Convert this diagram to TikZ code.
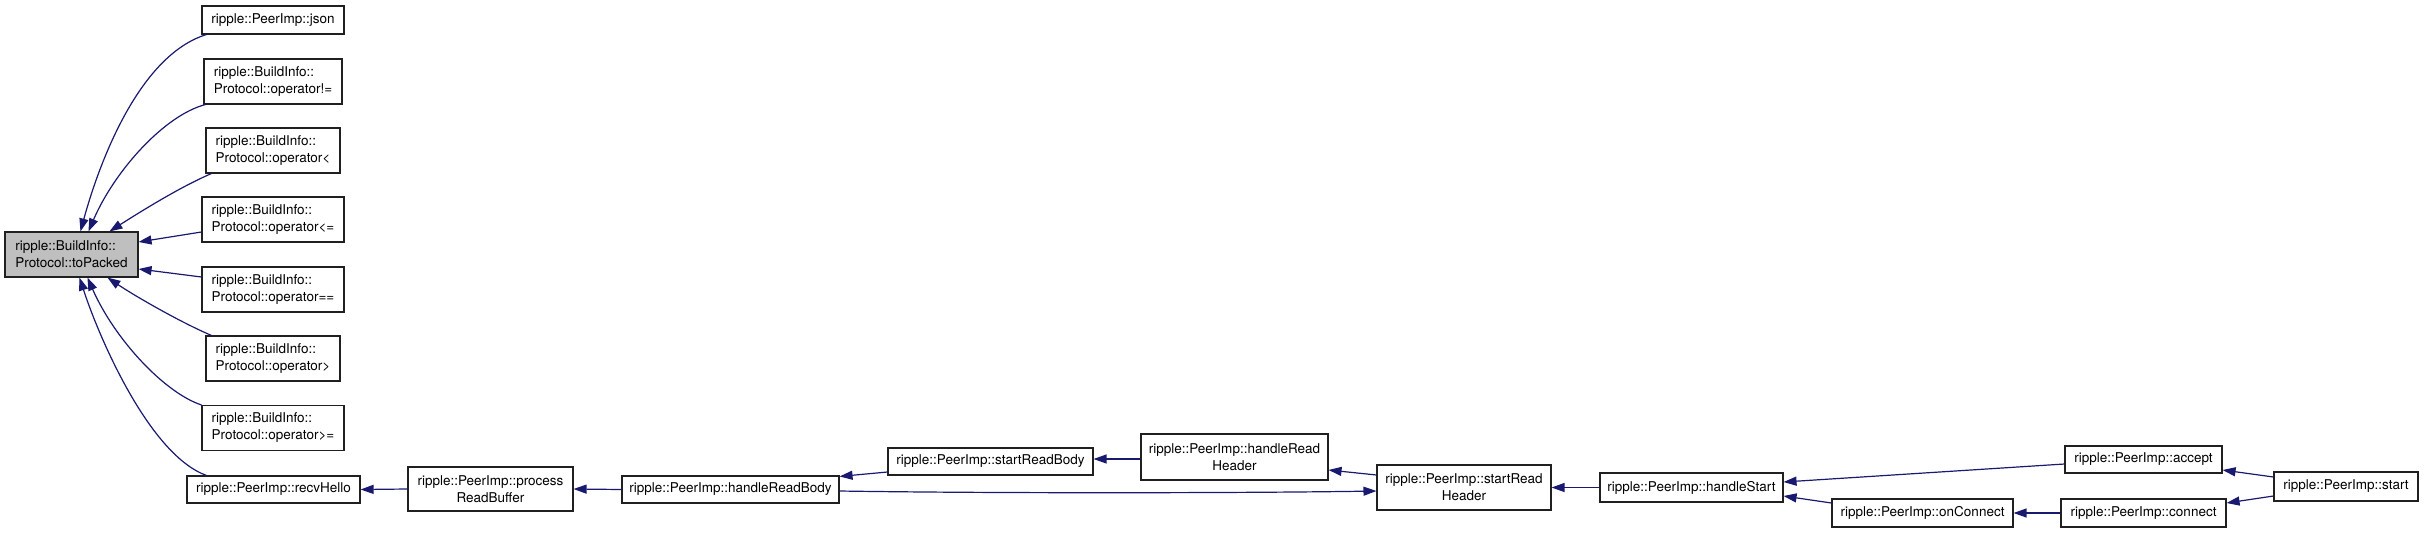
\documentclass[tikz,border=0pt]{standalone}
\usepackage{fontspec}
\setmainfont{TeX Gyre Heros}
\usetikzlibrary{arrows.meta,calc}
\definecolor{edgeblue}{HTML}{191970}
\definecolor{rootfill}{HTML}{BFBFBF}
\definecolor{boxline}{HTML}{202020}
\begin{document}
\begin{tikzpicture}[x=1pt,y=-1pt,
  box/.style={draw=boxline, line width=1.1pt, fill=white, rectangle, inner sep=0pt,
    font=\fontsize{13.5}{17}\selectfont},
  one/.style={box, minimum height=27pt},
  two/.style={box, minimum height=45pt},
  calledge/.style={draw=edgeblue, line width=1.2pt, -{Triangle[length=13pt,width=9pt]}}]
\useasboundingbox (0,0) rectangle (2424,533);

% left cluster
\node[two, minimum width=133pt, align=left, fill=rootfill] (toPacked) at (71.5,254.5) {ripple::BuildInfo::\\Protocol::toPacked};
\node[one, minimum width=142pt, minimum height=28pt] (json) at (273,20) {ripple::PeerImp::json};
\node[two, minimum width=138pt, align=left] (opNE) at (273,81.5) {ripple::BuildInfo::\\Protocol::operator!=};
\node[two, minimum width=134pt, align=left] (opLT) at (273,150.5) {ripple::BuildInfo::\\Protocol::operator<};
\node[two, minimum width=142pt, align=left] (opLE) at (273,219.5) {ripple::BuildInfo::\\Protocol::operator<=};
\node[two, minimum width=142pt, align=left] (opEQ) at (273,289.5) {ripple::BuildInfo::\\Protocol::operator==};
\node[two, minimum width=134pt, align=left] (opGT) at (273,358.5) {ripple::BuildInfo::\\Protocol::operator>};
\node[two, minimum width=142pt, align=left] (opGE) at (273,428) {ripple::BuildInfo::\\Protocol::operator>=};
\node[one, minimum width=173pt] (recvHello) at (273.5,489.5) {ripple::PeerImp::recvHello};

% bottom chain
\node[two, minimum width=165pt, minimum height=44pt, align=center] (processReadBuffer) at (490.5,489) {ripple::PeerImp::process\\ReadBuffer};
\node[one, minimum width=217pt] (handleReadBody) at (730.5,489.5) {ripple::PeerImp::handleReadBody};
\node[one, minimum width=205pt] (startReadBody) at (990.5,461.5) {ripple::PeerImp::startReadBody};
\node[two, minimum width=187pt, minimum height=46pt, align=center] (handleReadHeader) at (1234.5,457) {ripple::PeerImp::handleRead\\Header};
\node[two, minimum width=174pt, align=center] (startReadHeader) at (1464,487.5) {ripple::PeerImp::startRead\\Header};
\node[one, minimum width=183pt, minimum height=29pt] (handleStart) at (1691.5,487.5) {ripple::PeerImp::handleStart};
\node[one, minimum width=157pt] (accept) at (2143.5,459.5) {ripple::PeerImp::accept};
\node[one, minimum width=181pt, minimum height=28pt] (onConnect) at (1922.5,513) {ripple::PeerImp::onConnect};
\node[one, minimum width=165pt, minimum height=28pt] (connect) at (2143.5,513) {ripple::PeerImp::connect};
\node[one, minimum width=144pt, minimum height=29pt] (start) at (2346,486.5) {ripple::PeerImp::start};

% edges into toPacked
\draw[calledge] ($(json.south west)+(5,0)$) .. controls (140,55) and (100,160) .. ($(toPacked.north west)+(76,0)$);
\draw[calledge] ($(opNE.south west)+(2,0)$) .. controls (165,115) and (115,170) .. ($(toPacked.north west)+(84,0)$);
\draw[calledge] ($(opLT.south west)+(6,0)$) .. controls (180,187) and (140,212) .. ($(toPacked.north west)+(105,0)$);
\draw[calledge] ($(opLE.west)+(0,12.5)$) -- ($(toPacked.east)+(0,-12.5)$);
\draw[calledge] ($(opEQ.west)+(0,-12.5)$) -- ($(toPacked.east)+(0,14.5)$);
\draw[calledge] ($(opGT.north west)+(6,0)$) .. controls (180,322) and (135,296) .. ($(toPacked.south west)+(103,0)$);
\draw[calledge] ($(opGE.north west)+(0,0)$) .. controls (165,393) and (115,340) .. ($(toPacked.south west)+(83,0)$);
\draw[calledge] ($(recvHello.north west)+(20,0)$) .. controls (150,455) and (100,340) .. ($(toPacked.south west)+(75,0)$);

% bottom edges
\draw[calledge] (processReadBuffer.west) -- (recvHello.east);
\draw[calledge] (handleReadBody.west) -- (processReadBuffer.east);
\draw[calledge] ($(startReadBody.west)+(0,10.5)$) -- ($(handleReadBody.north east)+(0,1)$);
\draw[calledge] ($(handleReadBody.east)+(0,1.5)$) .. controls (1000,493.5) and (1250,493) .. ($(startReadHeader.west)+(0,3.5)$);
\draw[calledge] ($(handleReadHeader.west)+(0,2)$) -- ($(startReadBody.east)+(0,-2.5)$);
\draw[calledge] ($(startReadHeader.west)+(0,-12.5)$) -- ($(handleReadHeader.east)+(0,13)$);
\draw[calledge] (handleStart.west) -- (startReadHeader.east);
\draw[calledge] ($(accept.west)+(0,4.5)$) -- ($(handleStart.east)+(0,-5.5)$);
\draw[calledge] ($(onConnect.west)+(0,-10)$) -- ($(handleStart.east)+(0,8.5)$);
\draw[calledge] (connect.west) -- (onConnect.east);
\draw[calledge] ($(start.west)+(0,-9.5)$) -- ($(accept.east)+(0,10.5)$);
\draw[calledge] ($(start.west)+(0,9.5)$) -- ($(connect.east)+(0,-10)$);
\end{tikzpicture}
\end{document}
